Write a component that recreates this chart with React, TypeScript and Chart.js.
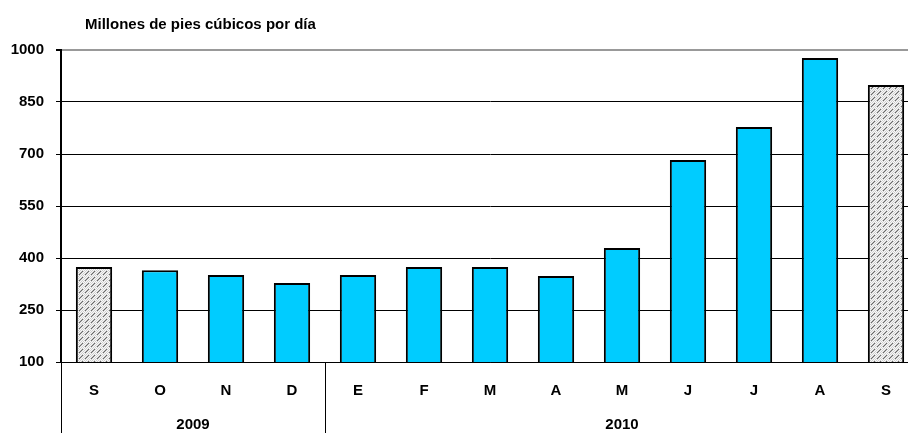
import React, { useEffect, useRef } from "react";
import { Chart, registerables } from "chart.js";

Chart.register(...registerables);

const months = ["S", "O", "N", "D", "E", "F", "M", "A", "M", "J", "J", "A", "S"];
const values = [374, 365, 351, 328, 351, 374, 374, 348, 429, 683, 778, 977, 899];
const estimated = [true, false, false, false, false, false, false, false, false, false, false, false, true];
const yearLabels = ["2009", "2010"];
const yearSpans = [4, 9];
const yTicks = [100, 250, 400, 550, 700, 850, 1000];
const title = "Millones de pies cúbicos por día";

const FONT = "'Liberation Sans', Arial, sans-serif";

function makePattern(): CanvasPattern | string {
  const c = document.createElement("canvas");
  c.width = 6;
  c.height = 6;
  const g = c.getContext("2d");
  if (!g) return "#ddd";
  g.fillStyle = "#f8f8f8";
  g.fillRect(0, 0, 6, 6);
  g.fillStyle = "#d0d0d0";
  for (let y = 0; y < 6; y++) for (let x = 0; x < 6; x++) if ((x + y) % 2 === 0) g.fillRect(x, y, 1, 1);
  g.fillStyle = "#666";
  g.fillRect(1, 4, 1, 1);
  g.fillRect(2, 3, 1, 1);
  g.fillRect(3, 2, 1, 1);
  g.fillRect(4, 1, 1, 1);
  const p = g.createPattern(c, "repeat");
  return p || "#ddd";
}

export default function App() {
  const ref = useRef<HTMLCanvasElement>(null);
  useEffect(() => {
    document.body.style.margin = "0";
    const canvas = ref.current!;
    const pattern = makePattern();
    const overlay = {
      id: "overlay",
      afterDraw(chart: any) {
        const ctx = chart.ctx;
        const x = chart.scales.x;
        const area = chart.chartArea;
        const w = x.getPixelForValue(1) - x.getPixelForValue(0);
        ctx.save();
        ctx.fillStyle = "#000";
        ctx.font = `bold 15px ${FONT}`;
        ctx.textBaseline = "alphabetic";
        ctx.textAlign = "left";
        ctx.fillText(title, 85, 29);
        ctx.strokeStyle = "#000";
        ctx.lineWidth = 1;
        let start = 0;
        ctx.textAlign = "center";
        ctx.textBaseline = "middle";
        for (let i = 0; i < yearLabels.length; i++) {
          const left = x.getPixelForValue(start) - w / 2;
          const right = x.getPixelForValue(start + yearSpans[i] - 1) + w / 2;
          ctx.beginPath();
          ctx.moveTo(Math.round(left) + 0.5, area.bottom);
          ctx.lineTo(Math.round(left) + 0.5, chart.height);
          ctx.moveTo(Math.round(right) + 0.5, area.bottom);
          ctx.lineTo(Math.round(right) + 0.5, chart.height);
          ctx.stroke();
          ctx.fillText(yearLabels[i], (left + right) / 2, 425);
          start += yearSpans[i];
        }
        ctx.restore();
      },
    };
    const chart = new Chart(canvas, {
      type: "bar",
      data: {
        labels: months,
        datasets: [
          {
            data: values,
            backgroundColor: estimated.map((e) => (e ? pattern : "#00CCFF")) as any,
            borderColor: "#000",
            borderWidth: 2,
            borderSkipped: false,
            barPercentage: 0.55,
            categoryPercentage: 1,
          },
        ],
      },
      options: {
        responsive: false,
        animation: false,
        layout: { padding: { left: 0, right: 11, top: 50, bottom: 0 } },
        plugins: { legend: { display: false }, tooltip: { enabled: false }, title: { display: false } },
        scales: {
          x: {
            grid: { display: false, drawTicks: false },
            border: { display: true, color: "#000", width: 1 },
            ticks: { color: "#000", font: { family: FONT, size: 15, weight: "bold" }, padding: 20 },
            afterFit: (s: any) => {
              s.height = 71;
            },
          },
          y: {
            min: 100,
            max: 1000,
            afterBuildTicks: (s: any) => {
              s.ticks = yTicks.map((v) => ({ value: v }));
            },
            grid: {
              color: (c: any) => (c.tick && c.tick.value === 1000 ? "#999" : "#000"),
              lineWidth: (c: any) => (c.tick && c.tick.value === 1000 ? 2 : 1),
              tickLength: 5,
              tickColor: "#000",
            },
            border: { display: true, color: "#000", width: 2 },
            ticks: {
              color: "#000",
              font: { family: FONT, size: 15, weight: "bold" },
              padding: 12,
              callback: (v: any) => String(v),
            },
            afterFit: (s: any) => {
              s.width = 61;
            },
          },
        },
      },
      plugins: [overlay],
    });
    return () => chart.destroy();
  }, []);
  return (
    <div style={{ width: 908, height: 433, overflow: "hidden", position: "relative", background: "#fff" }}>
      <canvas ref={ref} width={930} height={433} style={{ width: 930, height: 433, display: "block" }} />
    </div>
  );
}
